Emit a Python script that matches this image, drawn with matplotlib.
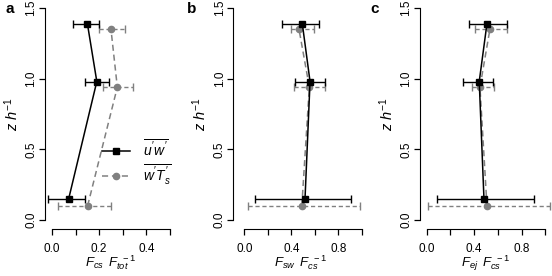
import numpy
import matplotlib
matplotlib.use("Agg")
import matplotlib.pyplot as plt

plt.rcParams["font.family"] = ["Liberation Sans", "DejaVu Sans"]
plt.rcParams["mathtext.fontset"] = "custom"
plt.rcParams["mathtext.rm"] = "Liberation Sans"
plt.rcParams["mathtext.it"] = "Liberation Sans:italic"

# heights (z/h)
z_uw = [0.145, 0.98, 1.39]
z_wt = [0.10, 0.94, 1.35]

# panel a: Fcs/Ftot
a_uw = [0.07, 0.19, 0.15]
a_uw_lo = [-0.016, 0.14, 0.088]
a_uw_hi = [0.14, 0.24, 0.20]
a_wt = [0.151, 0.277, 0.25]
a_wt_lo = [0.027, 0.215, 0.20]
a_wt_hi = [0.25, 0.342, 0.31]

# panel b: Fsw/Fcs
b_uw = [0.517, 0.56, 0.494]
b_uw_lo = [0.09, 0.43, 0.318]
b_uw_hi = [0.91, 0.69, 0.64]
b_wt = [0.49, 0.554, 0.466]
b_wt_lo = [0.035, 0.42, 0.395]
b_wt_hi = [0.985, 0.685, 0.59]

# panel c: Fej/Fcs
c_uw = [0.483, 0.443, 0.508]
c_uw_lo = [0.09, 0.303, 0.356]
c_uw_hi = [0.906, 0.561, 0.679]
c_wt = [0.508, 0.449, 0.533]
c_wt_lo = [0.014, 0.384, 0.407]
c_wt_hi = [1.04, 0.564, 0.674]

GREY = "#808080"
W, H = 552.0, 276.0


def add_panel(fig, left_px, width_px, xlim, xmax, xticks, xticklabels):
    ax = fig.add_axes([left_px / W, 47 / H, width_px / W, 229 / H])
    ax.set_xlim(*xlim)
    ax.set_ylim(-0.064, 1.557)
    for s in ["top", "right"]:
        ax.spines[s].set_visible(False)
    ax.spines["left"].set_bounds(0, 1.5)
    ax.spines["bottom"].set_bounds(0, xmax)
    ax.set_xticks(xticks)
    ax.set_xticklabels(xticklabels)
    ax.set_yticks([0, 0.5, 1.0, 1.5])
    ax.set_yticklabels(["0.0", "0.5", "1.0", "1.5"], rotation=90, va="center")
    ax.tick_params(axis="both", length=4, width=0.9, labelsize=8.5)
    ax.tick_params(axis="x", pad=6)
    ax.tick_params(axis="y", pad=1.5)
    ax.set_ylabel(r"$z\ h^{-1}$", fontsize=10.5, labelpad=3)
    return ax


def draw_profiles(ax, uw, uw_lo, uw_hi, wt, wt_lo, wt_hi):
    uw = numpy.array(uw)
    wt = numpy.array(wt)
    uw_err = [uw - numpy.array(uw_lo), numpy.array(uw_hi) - uw]
    wt_err = [wt - numpy.array(wt_lo), numpy.array(wt_hi) - wt]
    h1 = ax.errorbar(uw, z_uw, xerr=uw_err, color="black", marker="s", markersize=4.5,
                     linewidth=1.1, elinewidth=1.0, capsize=3, capthick=1.0, clip_on=False,
                     zorder=3)
    h2 = ax.errorbar(wt, z_wt, xerr=wt_err, color=GREY, marker="o", markersize=4.5,
                     linewidth=1.1, linestyle=(0, (4, 2.5)), elinewidth=1.0, capsize=3,
                     capthick=1.0, clip_on=False, zorder=2)
    h2[-1][0].set_linestyle((0, (3, 2)))
    return h1, h2


fig = plt.figure(figsize=(W / 100, H / 100), dpi=100)

ax_a = add_panel(fig, 45, 132, (-0.0297, 0.53), 0.5,
                 [0, 0.1, 0.2, 0.3, 0.4, 0.5], ["0.0", "", "0.2", "", "0.4", ""])
h1, h2 = draw_profiles(ax_a, a_uw, a_uw_lo, a_uw_hi, a_wt, a_wt_lo, a_wt_hi)
ax_a.set_xlabel(r"$F_{cs}\ \,F_{tot}^{\ \,-1}$", fontsize=9.5, labelpad=-1)
ax_a.legend([h1.lines[0], h2.lines[0]], [r"$\overline{u'w'}$", r"$\overline{w'T_s'}$"],
            loc="center left", bbox_to_anchor=(0.43, 0.29), frameon=False,
            borderpad=0, borderaxespad=0, handlelength=2.0, handletextpad=1.0,
            labelspacing=0.25, fontsize=10)

ax_b = add_panel(fig, 233.3, 135.4, (-0.094, 1.06), 1.0,
                 [0, 0.2, 0.4, 0.6, 0.8, 1.0], ["0.0", "", "0.4", "", "0.8", ""])
draw_profiles(ax_b, b_uw, b_uw_lo, b_uw_hi, b_wt, b_wt_lo, b_wt_hi)
ax_b.set_xlabel(r"$F_{sw}\ \,F_{cs}^{\ \,-1}$", fontsize=9.5, labelpad=-1)

ax_c = add_panel(fig, 420, 131.3, (-0.056, 1.05), 1.0,
                 [0, 0.2, 0.4, 0.6, 0.8, 1.0], ["0.0", "", "0.4", "", "0.8", ""])
draw_profiles(ax_c, c_uw, c_uw_lo, c_uw_hi, c_wt, c_wt_lo, c_wt_hi)
ax_c.set_xlabel(r"$F_{ej}\ \,F_{cs}^{\ \,-1}$", fontsize=9.5, labelpad=-1)

for lab, xp in [("a", 5), ("b", 187), ("c", 370)]:
    fig.text(xp / W, 1 - 9 / H, lab, fontsize=11, fontweight="bold", va="center", ha="left")

fig.savefig("out.png", dpi=100)
